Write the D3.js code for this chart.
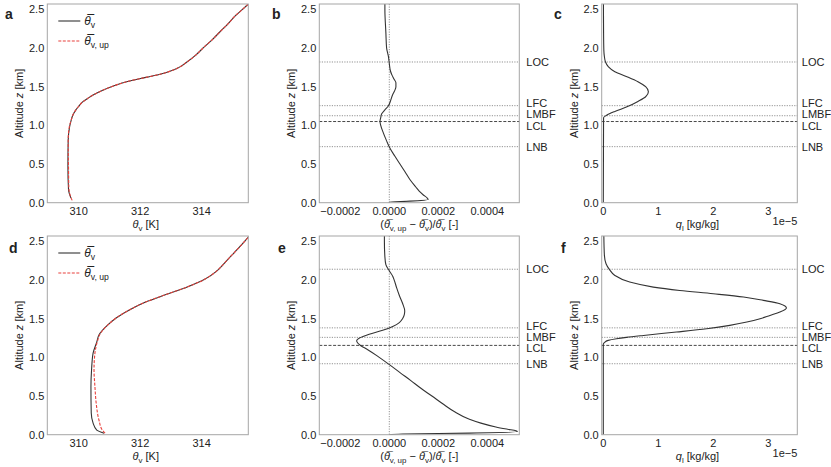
<!DOCTYPE html>
<html>
<head>
<meta charset="utf-8">
<script src="https://cdn.jsdelivr.net/npm/d3@7"></script>
<style>
  body { margin: 0; background: #fff; }
  text { font-family: "Liberation Sans", Arial, sans-serif; fill: #222; }
</style>
</head>
<body>
<svg id="fig" width="831" height="467"></svg>
<script>
// ---- data ----
// panel a : mean theta_v and updraft theta_v [K] vs altitude [km]
var zA      = [0.06, 0.17, 0.47, 0.81, 0.99, 1.07, 1.112, 1.20, 1.241, 1.30, 1.345, 1.40, 1.448, 1.509, 1.565, 1.621, 1.664, 1.716, 1.76, 1.81, 1.909, 2.009, 2.11, 2.211, 2.31, 2.427, 2.50, 2.57];
var thetaA  = [309.75, 309.67, 309.65, 309.66, 309.71, 309.76, 309.79, 309.91, 309.99, 310.12, 310.28, 310.50, 310.75, 311.13, 311.56, 312.19, 312.68, 313.08, 313.31, 313.49, 313.81, 314.07, 314.35, 314.60, 314.85, 315.12, 315.33, 315.52];
var zAup    = [0.03, 0.10, 0.20, 0.47, 0.81, 0.99, 1.07, 1.112, 1.20, 1.241, 1.30, 1.345, 1.40, 1.448, 1.509, 1.565, 1.621, 1.664, 1.716, 1.76, 1.81, 1.909, 2.009, 2.11, 2.211, 2.31, 2.427, 2.50, 2.57];
var thetaAup= [309.79, 309.72, 309.68, 309.67, 309.66, 309.70, 309.76, 309.79, 309.91, 309.99, 310.12, 310.28, 310.50, 310.75, 311.13, 311.56, 312.19, 312.68, 313.08, 313.31, 313.49, 313.81, 314.07, 314.35, 314.60, 314.85, 315.12, 315.33, 315.52];

// panel b : relative buoyancy (theta_up - theta)/theta
var zB   = [0, 0.01, 0.02, 0.04, 0.06, 0.10, 0.15, 0.20, 0.30, 0.40, 0.50, 0.60, 0.72, 0.80, 0.90, 1.00, 1.05, 1.10, 1.15, 1.20, 1.25, 1.30, 1.40, 1.45, 1.50, 1.55, 1.60, 1.65, 1.70, 1.80, 1.90, 2.00, 2.20, 2.50, 2.57];
var dthB = [0, 0, 0.84e-4, 1.59e-4, 1.55e-4, 1.39e-4, 1.22e-4, 1.09e-4, 0.84e-4, 0.64e-4, 0.435e-4, 0.23e-4, 0, -0.11e-4, -0.24e-4, -0.35e-4, -0.38e-4, -0.35e-4, -0.31e-4, -0.18e-4, -0.04e-4, 0.03e-4, 0.14e-4, 0.22e-4, 0.27e-4, 0.27e-4, 0.19e-4, 0.11e-4, 0.05e-4, 0, -0.04e-4, -0.11e-4, -0.14e-4, -0.18e-4, -0.18e-4];

// panel c : liquid water q_l [kg/kg]
var zC  = [0, 1.10, 1.13, 1.18, 1.24, 1.31, 1.37, 1.435, 1.50, 1.565, 1.63, 1.694, 1.76, 1.82, 1.89, 1.97, 2.20, 2.57];
var qlC = [0, 0.005e-5, 0.06e-5, 0.21e-5, 0.43e-5, 0.63e-5, 0.77e-5, 0.82e-5, 0.77e-5, 0.63e-5, 0.43e-5, 0.21e-5, 0.09e-5, 0.04e-5, 0.02e-5, 0.01e-5, 0.005e-5, 0.003e-5];

// panel d
var zD      = [0.02, 0.06, 0.15, 0.28, 0.62, 0.84, 1.055, 1.20, 1.29, 1.42, 1.51, 1.62, 1.716, 1.81, 1.91, 2.01, 2.11, 2.20, 2.30, 2.40, 2.50, 2.57];
var thetaD  = [310.83, 310.59, 310.47, 310.41, 310.40, 310.42, 310.47, 310.59, 310.66, 310.95, 311.22, 311.68, 312.18, 312.82, 313.53, 314.10, 314.47, 314.70, 314.93, 315.17, 315.40, 315.55];
var zDup    = [0.02, 0.06, 0.19, 0.41, 0.62, 0.84, 1.055, 1.22, 1.29, 1.42, 1.51, 1.62, 1.716, 1.81, 1.91, 2.01, 2.11, 2.20, 2.30, 2.40, 2.50, 2.57];
var thetaDup= [310.86, 310.77, 310.66, 310.57, 310.53, 310.50, 310.53, 310.62, 310.68, 310.95, 311.22, 311.68, 312.18, 312.82, 313.53, 314.10, 314.47, 314.70, 314.93, 315.17, 315.40, 315.55];

// panel e
var zE   = [0, 0.01, 0.02, 0.04, 0.05, 0.07, 0.10, 0.15, 0.20, 0.30, 0.40, 0.50, 0.60, 0.70, 0.80, 0.90, 1.00, 1.10, 1.15, 1.20, 1.22, 1.25, 1.30, 1.35, 1.40, 1.45, 1.50, 1.55, 1.60, 1.70, 1.80, 1.90, 2.00, 2.05, 2.12, 2.20, 2.30, 2.50, 2.57];
var dthE = [0, 0.54e-4, 3.27e-4, 5.24e-4, 5.17e-4, 4.83e-4, 4.35e-4, 3.74e-4, 3.27e-4, 2.65e-4, 2.18e-4, 1.74e-4, 1.29e-4, 0.88e-4, 0.45e-4, 0.03e-4, -0.41e-4, -0.88e-4, -1.16e-4, -1.32e-4, -1.33e-4, -1.22e-4, -0.82e-4, -0.27e-4, 0.14e-4, 0.41e-4, 0.54e-4, 0.61e-4, 0.63e-4, 0.54e-4, 0.41e-4, 0.30e-4, 0.20e-4, 0.14e-4, 0, -0.14e-4, -0.18e-4, -0.20e-4, -0.20e-4];

// panel f
var zF  = [0, 1.17, 1.198, 1.22, 1.241, 1.259, 1.284, 1.328, 1.371, 1.414, 1.457, 1.50, 1.543, 1.586, 1.638, 1.694, 1.737, 1.78, 1.823, 1.866, 1.909, 1.974, 2.06, 2.138, 2.211, 2.319, 2.57];
var qlF = [0, 0, 0.03e-5, 0.09e-5, 0.24e-5, 0.42e-5, 0.73e-5, 1.33e-5, 1.88e-5, 2.30e-5, 2.61e-5, 2.85e-5, 3.03e-5, 3.21e-5, 3.33e-5, 3.21e-5, 2.91e-5, 2.55e-5, 2.00e-5, 1.39e-5, 0.91e-5, 0.48e-5, 0.21e-5, 0.11e-5, 0.05e-5, 0.02e-5, 0.01e-5];

// characteristic levels [km]
var levelNames   = ["LOC", "LFC", "LMBF", "LCL", "LNB"];
var levelsTop    = [1.82, 1.255, 1.125, 1.05, 0.725];
var levelsBottom = [2.14, 1.382, 1.259, 1.155, 0.918];

var zTicks      = [0, 0.5, 1.0, 1.5, 2.0, 2.5];
var thetaTicks  = [310, 312, 314];
var dthTicks    = [-0.0002, 0, 0.0002, 0.0004];
var qlTicks     = [0, 1e-5, 2e-5, 3e-5];

// ---- layout ----
var svg = d3.select("#fig");
var cols = [{l: 47.3, r: 248.3}, {l: 319.3, r: 519.3}, {l: 601.7, r: 797.3}];
var rows = [{t: 4, b: 202.7}, {t: 236, b: 434.7}];
var zMax = 2.57;

var BLACK = "#333", RED = "#e8413c", GRID = "#777", SPINE = "#a6a6a6";

function pairs(z, v) { return z.map(function(d, i) { return [d, v[i]]; }); }

// theta with overline
var TB = "\u03B8\u0305";

function addSub(sel, parts) {
  // parts: [text, kind] kind: "n" normal, "i" italic, "s" subscript
  var shift = 0;
  parts.forEach(function(p) {
    var ts = sel.append("tspan").text(p[0]);
    if (p[1] === "i") ts.attr("font-style", "italic");
    if (p[1] === "s") {
      ts.attr("font-size", "0.72em");
      if (shift === 0) { ts.attr("dy", 3); shift = 3; }
    } else if (shift !== 0) { ts.attr("dy", -shift); shift = 0; }
  });
}

var clipId = 0;
function panel(cfg) {
  var c = cols[cfg.col], r = rows[cfg.row];
  var x = d3.scaleLinear().domain(cfg.xDomain).range([c.l, c.r]);
  var y = d3.scaleLinear().domain([0, zMax]).range([r.b, r.t]);
  var g = svg.append("g");

  var id = "clip" + (clipId++);
  g.append("clipPath").attr("id", id).append("rect")
    .attr("x", c.l).attr("y", r.t).attr("width", c.r - c.l).attr("height", r.b - r.t);

  // horizontal level lines
  if (cfg.levels) {
    g.selectAll(".lev").data(cfg.levels).enter().append("line")
      .attr("x1", c.l).attr("x2", c.r)
      .attr("y1", function(d) { return y(d); }).attr("y2", function(d) { return y(d); })
      .attr("stroke", function(d, i) { return levelNames[i] === "LCL" ? "#333" : GRID; })
      .attr("stroke-width", function(d, i) { return levelNames[i] === "LCL" ? 0.9 : 0.8; })
      .attr("stroke-dasharray", function(d, i) { return levelNames[i] === "LCL" ? "3,1.6" : "1.2,1.3"; });

    // labels, pushed apart where they crowd
    var lab = cfg.levels.map(function(d, i) { return {name: levelNames[i], y: y(d)}; })
      .sort(function(a, b) { return a.y - b.y; });
    for (var it = 0; it < 60; it++) {
      for (var k = 1; k < lab.length; k++) {
        var gap = lab[k].y - lab[k - 1].y;
        if (gap < 11.3) {
          var push = (11.3 - gap) / 2;
          lab[k].y += push; lab[k - 1].y -= push;
        }
      }
    }
    g.selectAll(".levlab").data(lab).enter().append("text")
      .attr("x", c.r + cfg.labelGap).attr("y", function(d) { return d.y; })
      .attr("dy", "0.36em").attr("font-size", 11).text(function(d) { return d.name; });
  }

  if (cfg.zeroLine) {
    g.append("line").attr("x1", x(0)).attr("x2", x(0)).attr("y1", r.t).attr("y2", r.b)
      .attr("stroke", GRID).attr("stroke-width", 0.8).attr("stroke-dasharray", "1.2,1.3");
  }

  var line = d3.line()
    .x(function(d) { return x(d[1]); })
    .y(function(d) { return y(d[0]); })
    .curve(d3.curveMonotoneY);

  cfg.series.forEach(function(s) {
    g.append("path").datum(pairs(s.z, s.v))
      .attr("clip-path", "url(#" + id + ")")
      .attr("d", line).attr("fill", "none")
      .attr("stroke", s.color).attr("stroke-width", s.width || 1.1)
      .attr("stroke-dasharray", s.dash || null)
      .attr("stroke-opacity", s.opacity || 1);
  });

  // frame
  g.append("rect").attr("x", c.l).attr("y", r.t).attr("width", c.r - c.l).attr("height", r.b - r.t)
    .attr("fill", "none").attr("stroke", SPINE).attr("stroke-width", 1);

  // x ticks
  g.selectAll(".xt").data(cfg.xTicks).enter().append("text")
    .attr("x", function(d) { return x(d); }).attr("y", r.b + 12)
    .attr("text-anchor", "middle").attr("font-size", 11)
    .text(cfg.xFmt);
  // y ticks
  g.selectAll(".yt").data(zTicks).enter().append("text")
    .attr("x", c.l - 3).attr("y", function(d) { return y(d); }).attr("dy", "0.36em")
    .attr("text-anchor", "end").attr("font-size", 11)
    .text(d3.format(".1f"));

  // y label
  var yl = g.append("text").attr("font-size", 11).attr("text-anchor", "middle")
    .attr("transform", "translate(" + (c.l - 24) + "," + ((r.t + r.b) / 2) + ") rotate(-90)");
  addSub(yl, [["Altitude ", "n"], ["z", "i"], [" [km]", "n"]]);

  // x label
  var xl = g.append("text").attr("font-size", 11).attr("text-anchor", "middle")
    .attr("x", (c.l + c.r) / 2 + cfg.xLabelDx).attr("y", r.b + 25);
  addSub(xl, cfg.xLabel);

  if (cfg.offsetText) {
    g.append("text").attr("x", c.r).attr("y", r.b + 22).attr("text-anchor", "end")
      .attr("font-size", 11).text(cfg.offsetText);
  }

  if (cfg.legend) {
    var items = [{c: BLACK, dash: null, lab: [[TB, "i"], ["v", "s"]]},
                 {c: RED, dash: "3,1.5", lab: [[TB, "i"], ["v, up", "s"]]}];
    items.forEach(function(it, i) {
      var ly = r.t + 17 + i * 20;
      g.append("line").attr("x1", c.l + 11).attr("x2", c.l + 33).attr("y1", ly).attr("y2", ly)
        .attr("stroke", it.c).attr("stroke-width", 1.1).attr("stroke-dasharray", it.dash);
      var t = g.append("text").attr("x", c.l + 37).attr("y", ly + 4).attr("font-size", 12);
      addSub(t, it.lab);
    });
  }

  svg.append("text").attr("x", cfg.letter[1]).attr("y", cfg.letter[2])
    .attr("font-size", 14).attr("font-weight", "bold").text(cfg.letter[0]);
}

var thetaLabel = [["\u03B8", "i"], ["v", "s"], [" [K]", "n"]];
var dthLabel = [["(", "n"], [TB, "i"], ["v, up", "s"], [" \u2212 ", "n"], [TB, "i"], ["v", "s"],
                [")/", "n"], [TB, "i"], ["v", "s"], [" [-]", "n"]];
var qlLabel = [["q", "i"], ["l", "s"], [" [kg/kg]", "n"]];

var fmtTheta = d3.format("d");
var fmtDth = d3.format(".4f");
var fmtQl = function(d) { return Math.round(d / 1e-5); };

var thetaDom = [308.98, 315.52];
var dthDom = [-0.0002857, 0.0005306];
var qlDom = [-0.029e-5, 3.527e-5];

panel({col: 0, row: 0, letter: ["a", 5, 19], xDomain: thetaDom, xTicks: thetaTicks, xFmt: fmtTheta,
  xLabel: thetaLabel, xLabelDx: -2, legend: true,
  series: [{z: zA, v: thetaA, color: BLACK}, {z: zAup, v: thetaAup, color: RED, dash: "3,1.5"}]});
panel({col: 1, row: 0, letter: ["b", 272, 19], xDomain: dthDom, xTicks: dthTicks, xFmt: fmtDth,
  xLabel: dthLabel, xLabelDx: 0, zeroLine: true, levels: levelsTop, labelGap: 7,
  series: [{z: zB, v: dthB, color: BLACK}]});
panel({col: 2, row: 0, letter: ["c", 554, 19], xDomain: qlDom, xTicks: qlTicks, xFmt: fmtQl,
  xLabel: qlLabel, xLabelDx: -2, levels: levelsTop, labelGap: 4.5, offsetText: "1e\u22125",
  series: [{z: zC, v: qlC, color: BLACK}]});
panel({col: 0, row: 1, letter: ["d", 9, 253], xDomain: thetaDom, xTicks: thetaTicks, xFmt: fmtTheta,
  xLabel: thetaLabel, xLabelDx: -2, legend: true,
  series: [{z: zD, v: thetaD, color: BLACK}, {z: zDup, v: thetaDup, color: RED, dash: "3,1.5"}]});
panel({col: 1, row: 1, letter: ["e", 278, 253], xDomain: dthDom, xTicks: dthTicks, xFmt: fmtDth,
  xLabel: dthLabel, xLabelDx: 0, zeroLine: true, levels: levelsBottom, labelGap: 7,
  series: [{z: zE, v: dthE, color: BLACK}]});
panel({col: 2, row: 1, letter: ["f", 561, 253], xDomain: qlDom, xTicks: qlTicks, xFmt: fmtQl,
  xLabel: qlLabel, xLabelDx: -2, levels: levelsBottom, labelGap: 4.5, offsetText: "1e\u22125",
  series: [{z: zF, v: qlF, color: BLACK}]});
</script>
</body>
</html>
